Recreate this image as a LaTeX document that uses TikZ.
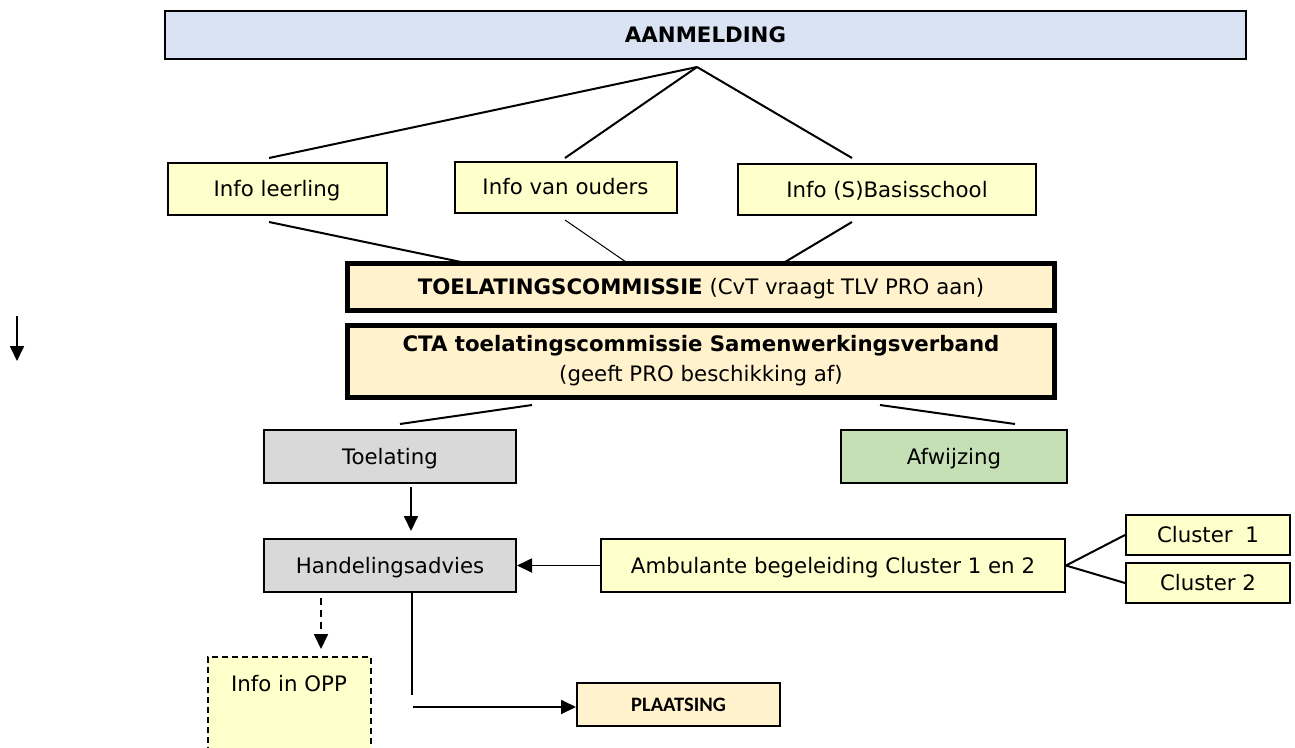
\documentclass[tikz,border=0pt]{standalone}
\usepackage{fontspec}
\setmainfont{DejaVu Sans}
\newfontfamily\carl{Carlito}
\usetikzlibrary{arrows.meta}
\definecolor{bluefill}{HTML}{DAE3F3}
\definecolor{yellowfill}{HTML}{FFFFCC}
\definecolor{orangefill}{HTML}{FFF2CC}
\definecolor{grayfill}{HTML}{D9D9D9}
\definecolor{greenfill}{HTML}{C5E0B4}
\begin{document}
\begin{tikzpicture}[x=1pt,y=-1pt,
  every node/.style={font=\fontsize{21.3}{30}\selectfont, inner sep=0pt},
  box/.style={draw, line width=2pt, rectangle, align=center},
  sl/.style={text height=15.5pt, text depth=0pt},
  sbox/.style={box, sl},
  ybox/.style={sbox, fill=yellowfill},
  gbox/.style={sbox, fill=grayfill},
  tbox/.style={box, line width=5pt, fill=orangefill},
  conn/.style={line width=2pt},
  thinconn/.style={line width=1pt},
  arr/.style={line width=1.8pt, -{Triangle[length=15pt,width=14pt]}},
]
\useasboundingbox (0,0) rectangle (1295,747);

% nodes
\node[sbox, fill=bluefill, minimum width=1081pt, minimum height=48pt] (aan) at (705.5,34.5) {\textbf{AANMELDING}};
\node[ybox, minimum width=219pt, minimum height=52pt] (il) at (277,189) {Info leerling};
\node[ybox, minimum width=222pt, minimum height=51pt] (iv) at (565.5,187) {Info van ouders};
\node[ybox, minimum width=298pt, minimum height=51pt] (ib) at (887,189.5) {Info (S)Basisschool};
\node[tbox, sl, minimum width=707pt, minimum height=47pt] (toe) at (701,286.5) {\textbf{TOELATINGSCOMMISSIE} (CvT vraagt TLV PRO aan)};
\node[tbox, minimum width=707pt, minimum height=72pt] (cta) at (701,361) {\textbf{CTA toelatingscommissie Samenwerkingsverband}\\(geeft PRO beschikking af)};
\node[gbox, minimum width=252pt, minimum height=53pt] (tl) at (390,456.5) {Toelating};
\node[sbox, fill=greenfill, minimum width=226pt, minimum height=53pt] (af) at (954,456.5) {Afwijzing};
\node[gbox, minimum width=252pt, minimum height=53pt] (ha) at (390,565.5) {Handelingsadvies};
\node[ybox, minimum width=464pt, minimum height=53pt] (amb) at (833,565.5) {Ambulante begeleiding Cluster 1 en 2};
\node[ybox, minimum width=164pt, minimum height=40pt] (c1) at (1208,535) {Cluster\hspace{0.6em}1};
\node[ybox, minimum width=164pt, minimum height=40pt] (c2) at (1208,583) {Cluster 2};
\node[box, fill=yellowfill, dashed, dash pattern=on 6pt off 4pt, anchor=north, minimum width=163pt, text height=34pt, text depth=120pt] (opp) at (289,656) {Info in OPP};
\node[box, fill=orangefill, minimum width=203pt, minimum height=43pt, text height=13.2pt, text depth=0pt] (pl) at (678.5,704.5) {\carl\fontsize{20.5}{24}\selectfont\textbf{PLAATSING}};

% free line ends
\coordinate (apex) at (697,67);
\coordinate (ilt) at (269,158);
\coordinate (ivt) at (565,158);
\coordinate (ibt) at (852,158);
\coordinate (ilb) at (269,222);
\coordinate (ivb) at (565,220);
\coordinate (ibb) at (852,222);
\coordinate (toeA) at (461,262);
\coordinate (toeB) at (626,262);
\coordinate (toeC) at (785,262);
\coordinate (ctaL) at (532,405);
\coordinate (ctaR) at (880,405);
\coordinate (tlt) at (400,424);
\coordinate (aft) at (1015,424);
\coordinate (ls) at (17,316);
\coordinate (le) at (17,361);
\coordinate (hab) at (412,593);
\coordinate (hae) at (412,695);
\coordinate (pls) at (413,707);
\coordinate (oppS) at (321,598);
\coordinate (oppE) at (321,649);
\coordinate (tlS) at (411,487);
\coordinate (haT) at (411,531);

% connectors
\draw[conn] (apex) -- (ilt);
\draw[conn] (apex) -- (ivt);
\draw[conn] (apex) -- (ibt);
\draw[conn] (ilb) -- (toeA);
\draw[thinconn] (ivb) -- (toeB);
\draw[conn] (ibb) -- (toeC);
\draw[conn] (ctaL) -- (tlt);
\draw[conn] (ctaR) -- (aft);
\draw[arr] (ls) -- (le);
\draw[arr] (tlS) -- (haT);
\draw[arr] (amb.west) -- (amb.west -| ha.east);
\draw[conn] (amb.east) -- (c1.west);
\draw[conn] (amb.east) -- (c2.west);
\draw[arr, dashed, dash pattern=on 7pt off 5pt] (oppS) -- (oppE);
\draw[line width=1.4pt] (hab) -- (hae);
\draw[arr] (pls) -- (pls -| pl.west);
\end{tikzpicture}
\end{document}
